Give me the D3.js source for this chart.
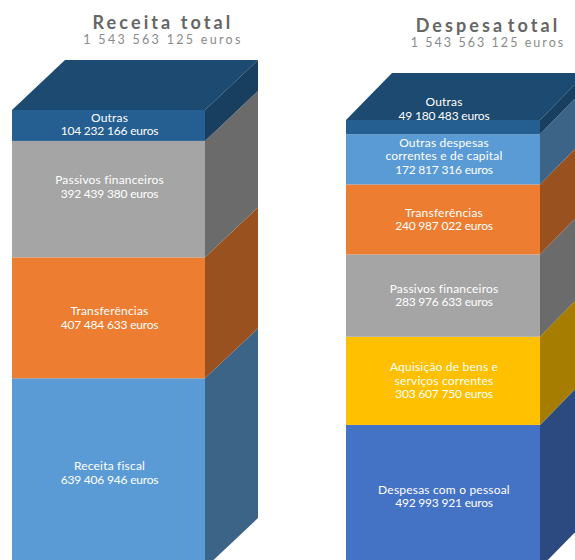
<!DOCTYPE html>
<html>
<head>
<meta charset="utf-8">
<script src="https://cdn.jsdelivr.net/npm/d3@7"></script>
<style>
html, body { margin: 0; padding: 0; background: #fff; overflow: hidden; }
text { font-family: Lato, "Open Sans", sans-serif; text-anchor: middle; }
</style>
</head>
<body>
<svg id="chart" width="575" height="560"></svg>
<script>
var receitaNames = [["Receita fiscal"], ["Transferências"], ["Passivos financeiros"], ["Outras"]];
var receitaValues = [639406946, 407484633, 392439380, 104232166];
var receitaLabels = ["639 406 946 euros", "407 484 633 euros", "392 439 380 euros", "104 232 166 euros"];
var receitaFront = ["#5b9bd5", "#ed7d31", "#a5a5a5", "#255e91"];
var receitaSide = ["#3b6487", "#9a5120", "#6b6b6b", "#183f60"];

var despesaNames = [["Despesas com o pessoal"], ["Aquisição de bens e", "serviços correntes"], ["Passivos financeiros"], ["Transferências"], ["Outras despesas", "correntes e de capital"], ["Outras"]];
var despesaValues = [492993921, 303607750, 283976633, 240987022, 172817316, 49180483];
var despesaLabels = ["492 993 921 euros", "303 607 750 euros", "283 976 633 euros", "240 987 022 euros", "172 817 316 euros", "49 180 483 euros"];
var despesaFront = ["#4472c4", "#ffc000", "#a5a5a5", "#ed7d31", "#5b9bd5", "#255e91"];
var despesaSide = ["#2c4a80", "#a67d00", "#6b6b6b", "#9a5120", "#3b6487", "#183f60"];

var TOP_COLOR = "#1c4a70";
var TOTAL_LABEL = "1 543 563 125 euros";

var svg = d3.select("#chart");
var line = d3.line().curve(d3.curveLinearClosed);

function drawBar(bar)
{
    var g = svg.append("g");
    var tops = [0].concat(Array.from(d3.cumsum(bar.values)));
    var total = tops[tops.length - 1];
    var y = d3.scaleLinear().domain([0, total]).range([bar.bottom, bar.top]);
    var x = d3.scaleLinear().domain([0, 1]).range([bar.left, bar.right]);

    var segments = bar.values.map(function (v, i) {
        return {i: i, from: tops[i], to: tops[i + 1]};
    });

    // top face
    g.append("path")
        .attr("fill", TOP_COLOR)
        .attr("d", line([
            [x(0), y(total)],
            [x(0) + bar.dx, y(total) - bar.dy],
            [x(1) + bar.dx, y(total) - bar.dy],
            [x(1), y(total)]
        ]));

    // side faces
    g.selectAll("path.side").data(segments).enter().append("path")
        .attr("class", "side")
        .attr("fill", function (d) { return bar.side[d.i]; })
        .attr("d", function (d) {
            return line([
                [x(1), y(d.to)],
                [x(1) + bar.dx, y(d.to) - bar.dy],
                [x(1) + bar.dx, y(d.from) - bar.dy],
                [x(1), y(d.from)]
            ]);
        });

    // front faces
    g.selectAll("rect").data(segments).enter().append("rect")
        .attr("x", x(0))
        .attr("width", x(1) - x(0))
        .attr("y", function (d) { return y(d.to); })
        .attr("height", function (d) { return y(d.from) - y(d.to); })
        .attr("fill", function (d) { return bar.front[d.i]; });

    // labels
    segments.forEach(function (d) {
        var lines = bar.names[d.i].concat([bar.labels[d.i]]);
        var mid = (y(d.from) + y(d.to)) / 2 + (bar.nudge[d.i] || 0);
        var first = mid - (lines.length - 1) * 6.8 + 4;
        lines.forEach(function (t, j) {
            g.append("text")
                .attr("x", (x(0) + x(1)) / 2 + 1)
                .attr("y", first + j * 13.6)
                .attr("fill", "#ffffff")
                .attr("font-size", 12)
                .attr("letter-spacing", j == lines.length - 1 ? -0.2 : 0.2)
                .text(t);
        });
    });

    // titles
    g.append("text")
        .attr("x", bar.titleX).attr("y", bar.titleY)
        .attr("fill", "#666")
        .attr("font-size", 18)
        .attr("font-weight", 700)
        .attr("letter-spacing", 3.1)
        .attr("word-spacing", bar.titleWordGap)
        .text(bar.title);
    g.append("text")
        .attr("x", bar.titleX).attr("y", bar.titleY + 15)
        .attr("fill", "#8a8a8a")
        .attr("font-size", 12.5)
        .attr("letter-spacing", bar.totalSpacing)
        .text(TOTAL_LABEL);
}

drawBar({
    title: "Receita total", titleX: 163, titleY: 29, titleWordGap: 0, totalSpacing: 2.3,
    names: receitaNames, values: receitaValues, labels: receitaLabels,
    front: receitaFront, side: receitaSide,
    left: 12, right: 205, top: 110, bottom: 568, dx: 53, dy: 50,
    nudge: [0, 0, -12, -1]
});

drawBar({
    title: "Despesa total", titleX: 488, titleY: 32, titleWordGap: -5, totalSpacing: 2.05,
    names: despesaNames, values: despesaValues, labels: despesaLabels,
    front: despesaFront, side: despesaSide,
    left: 346, right: 540, top: 120, bottom: 568, dx: 46, dy: 47,
    nudge: [0, 0, 0, 0, -3, -18]
});
</script>
</body>
</html>
